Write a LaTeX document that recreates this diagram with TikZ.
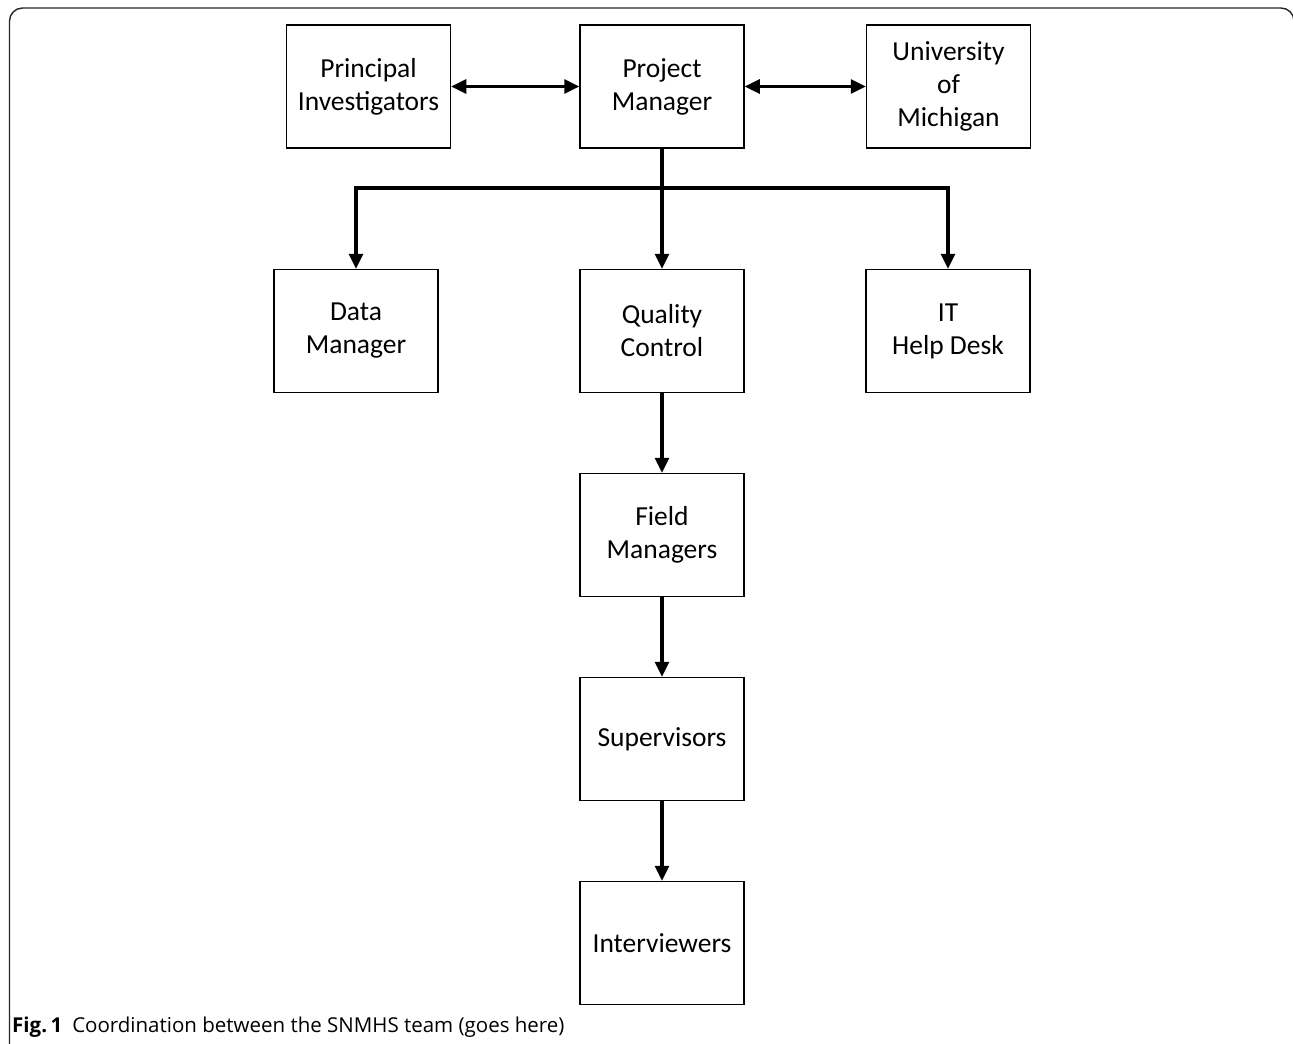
\documentclass[tikz,border=0pt]{standalone}
\usepackage{fontspec}
\setmainfont{Carlito}
\newfontfamily\capfont{Open Sans}
\usetikzlibrary{arrows.meta}
\begin{document}
\begin{tikzpicture}[x=1pt,y=-1pt,
  box/.style={draw=black, line width=1.5pt, minimum width=164pt, minimum height=123pt,
    inner sep=0pt, align=center, font=\fontsize{27.5}{33}\selectfont},
  arr/.style={line width=3.1pt, -{Triangle[length=15pt,width=14pt]}},
  biarr/.style={line width=3.1pt, {Triangle[length=15pt,width=14pt]}-{Triangle[length=15pt,width=14pt]}}]
\useasboundingbox (0,0) rectangle (1293,1044);
\begin{scope}
\clip (0,0) rectangle (1293,1044);
\draw[line width=1.4pt, draw=black!85, rounded corners=13pt] (9.5,8) rectangle (1294,1070);
\end{scope}
\node[box] (pi) at (368.5,86.5) {Principal\\Investigators};
\node[box] (pm) at (662,86.5) {Project\\Manager};
\node[box] (um) at (948.5,86.5) {University\\of\\Michigan};
\node[box] (dm) at (356,331) {Data\\Manager};
\node[box] (qc) at (662,331) {Quality\\Control};
\node[box] (it) at (948,331) {IT\\Help Desk};
\node[box] (fm) at (662,535) {Field\\Managers};
\node[box] (sv) at (662,739) {Supervisors};
\node[box] (iv) at (662,943) {Interviewers};
\coordinate (bar) at (662,188);
\draw[biarr] (pi) -- (pm);
\draw[biarr] (pm) -- (um);
\draw[arr] (pm.south) -- (qc.north);
\draw[arr] (bar) -| (dm.north);
\draw[arr] (bar) -| (it.north);
\draw[arr] (qc) -- (fm);
\draw[arr] (fm) -- (sv);
\draw[arr] (sv) -- (iv);
\node[anchor=base west, inner sep=0pt, font=\capfont\fontsize{20.5}{24}\selectfont] (cap) at (12,1032)
  {\textbf{Fig.\,1}\hspace{10pt}Coordination between the SNMHS team (goes here)};
\end{tikzpicture}
\end{document}
